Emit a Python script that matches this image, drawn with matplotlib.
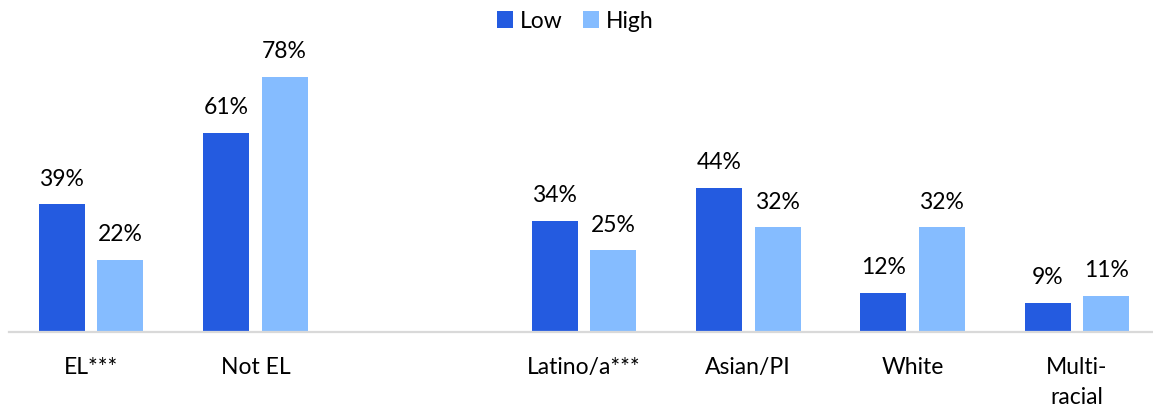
import matplotlib
matplotlib.use("Agg")
import matplotlib.pyplot as plt
import numpy as np

categories = ["EL***", "Not EL", "", "Latino/a***", "Asian/PI", "White", "Multi-\nracial"]
low = [39, 61, None, 34, 44, 12, 9]
high = [22, 78, None, 25, 32, 32, 11]
series_names = ["Low", "High"]
colors = ["#245BE0", "#85BCFF"]

plt.rcParams['font.family'] = ['Lato', 'DejaVu Sans']

W, H = 1153, 409
fig = plt.figure(figsize=(W/100, H/100), dpi=100)
ax_left, ax_right = 9/W, 1159/W
ax_bottom = 1 - 332/H
ax_top = 1 - 40/H
ax = fig.add_axes([ax_left, ax_bottom, ax_right - ax_left, ax_top - ax_bottom])

px_per_pct = 3.27
ax.set_ylim(0, (332 - 40) / px_per_pct)
ax.set_xlim(-0.5, len(categories) - 0.5)

x = np.arange(len(categories))
bw = 0.28
off = 0.178
for vals, name, col, sgn in [(low, series_names[0], colors[0], -1), (high, series_names[1], colors[1], 1)]:
    xs = [xi + sgn * off for xi, v in zip(x, vals) if v is not None]
    vs = [v for v in vals if v is not None]
    ax.bar(xs, vs, width=bw, color=col, label=name, zorder=2)
    for xi, v in zip(xs, vs):
        ax.annotate(f"{v}%", (xi, v), xytext=(0, 13.5), textcoords="offset points",
                    ha="center", va="baseline", fontsize=16.5, color="black")

for s in ["top", "right", "left"]:
    ax.spines[s].set_visible(False)
ax.spines["bottom"].set_color("#D9D9D9")
ax.spines["bottom"].set_linewidth(1.6)
ax.set_yticks([])
ax.set_xticks(x)
ax.set_xticklabels(categories, fontsize=16.5, linespacing=1.5)
ax.tick_params(axis="x", length=0, pad=18)

fig.legend(loc="center", bbox_to_anchor=(575/W, 1 - 21/H), ncol=2, frameon=False,
           fontsize=16.5, handlelength=0.7, handleheight=0.7, handletextpad=0.3,
           columnspacing=0.9)

fig.savefig("out.png", dpi=100)
